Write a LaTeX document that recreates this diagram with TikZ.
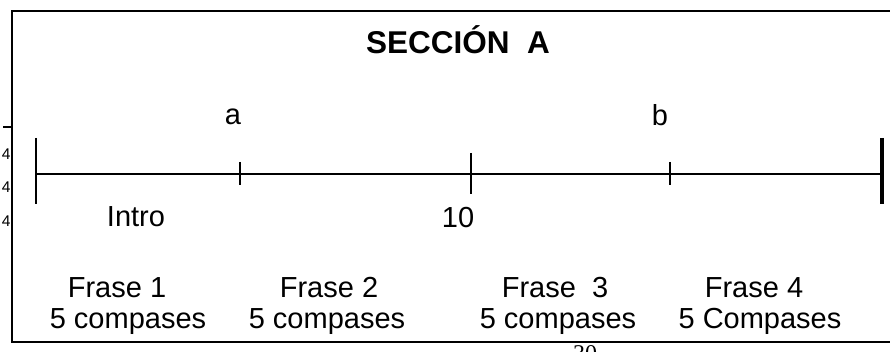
\documentclass[tikz,border=0pt]{standalone}
\usepackage{fontspec}
\setmainfont{Liberation Sans}
\newfontfamily\serifnum{Liberation Serif}
\begin{document}
\begin{tikzpicture}[x=1pt,y=-1pt,
  txt/.style={inner sep=0pt,anchor=base,font=\fontsize{29}{31}\selectfont},
  titletxt/.style={inner sep=0pt,anchor=base,font=\fontsize{31.5}{33}\selectfont\bfseries},
  smalltxt/.style={inner sep=0pt,anchor=base,font=\fontsize{15.5}{17}\selectfont},
  frameline/.style={line width=2pt},
  mainline/.style={line width=1.8pt},
  endbar/.style={line width=4pt}]
\useasboundingbox (0,0) rectangle (890,352);
% frame
\draw[frameline] (890,11) -- (12,11) -- (12,342) -- (890,342);
% left margin marks
\coordinate (m1) at (3,127);
\coordinate (m2) at (12,127);
\draw[line width=1.5pt] (m1) -- (m2);
\node[smalltxt] (f1) at (6.3,160) {4};
\node[smalltxt] (f2) at (6.3,193) {4};
\node[smalltxt] (f3) at (6.3,227) {4};
% title
\node[titletxt] (title) at (458,54) {SECCIÓN\ \ A};
% timeline
\coordinate (L) at (36,174);
\coordinate (R) at (882,174);
\coordinate (Lt) at (36,138);
\coordinate (Lb) at (36,204);
\coordinate (Rt) at (882,138);
\coordinate (Rb) at (882,204);
\coordinate (t1a) at (240,162);
\coordinate (t1b) at (240,185);
\coordinate (t2a) at (471,153);
\coordinate (t2b) at (471,194);
\coordinate (t3a) at (670,162);
\coordinate (t3b) at (670,185);
\draw[mainline] (L) -- (R);
\draw[mainline] (Lt) -- (Lb);
\draw[mainline] (t1a) -- (t1b);
\draw[mainline] (t2a) -- (t2b);
\draw[mainline] (t3a) -- (t3b);
\draw[endbar] (Rt) -- (Rb);
% labels
\node[txt] (la) at (233,125) {a};
\node[txt] (lb) at (660,126) {b};
\node[txt] (intro) at (136,227) {Intro};
\node[txt] (ten) at (458,228) {10};
\node[txt] (fr1) at (117,297) {Frase 1};
\node[txt] (fr2) at (329,297) {Frase 2};
\node[txt] (fr3) at (555,297) {Frase\ \ 3};
\node[txt] (fr4) at (754,297) {Frase 4};
\node[txt] (c1) at (128,328) {5 compases};
\node[txt] (c2) at (327,328) {5 compases};
\node[txt] (c3) at (558,328) {5 compases};
\node[txt] (c4) at (760,328) {5 Compases};
% page number cut at bottom edge, as in the reference
\node[inner sep=0pt,anchor=base,font=\fontsize{24}{26}\selectfont\serifnum] (pg) at (585,361) {30};
\end{tikzpicture}
\end{document}
